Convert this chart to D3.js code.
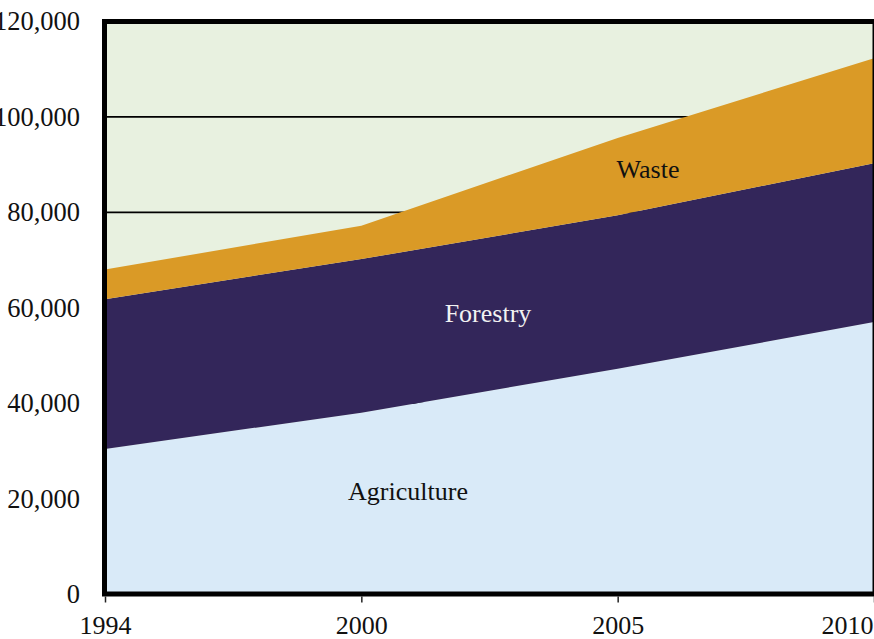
<!DOCTYPE html>
<html>
<head>
<meta charset="utf-8">
<script src="https://cdn.jsdelivr.net/npm/d3@7"></script>
<style>
  html, body { margin: 0; padding: 0; background: #ffffff; overflow: hidden; }
  svg { display: block; }
  text { font-family: "Liberation Serif", "DejaVu Serif", serif; }
</style>
</head>
<body>
<svg id="chart" width="874" height="639"></svg>
<script>
// ---- Data ----
const years = ["1994", "2000", "2005", "2010"];
const agriculture = [30400, 38000, 47200, 57000];
const forestry = [31400, 32200, 32200, 33300];
const waste = [6200, 7000, 16200, 22000];
const seriesNames = ["Agriculture", "Forestry", "Waste"];
const yTicks = [0, 20000, 40000, 60000, 80000, 100000, 120000];
const gridValues = [20000, 40000, 60000, 80000, 100000];

// ---- Layout ----
const svg = d3.select("#chart");
const plotLeft = 105, plotRight = 874, plotTop = 21.5, plotBottom = 594;

const x = d3.scalePoint().domain(years).range([plotLeft, plotRight]);
const y = d3.scaleLinear().domain([0, 120000]).range([plotBottom, plotTop]);

const colors = {
  Agriculture: "#d9eaf8",
  Forestry: "#33265a",
  Waste: "#da9a26"
};

const table = years.map((yr, i) => ({
  year: yr,
  Agriculture: agriculture[i],
  Forestry: forestry[i],
  Waste: waste[i]
}));
const stacked = d3.stack().keys(seriesNames)(table);

// background
svg.append("rect")
  .attr("x", plotLeft).attr("y", plotTop)
  .attr("width", plotRight - plotLeft).attr("height", plotBottom - plotTop)
  .attr("fill", "#e8f1e0");

// gridlines
svg.append("g").selectAll("line")
  .data(gridValues).join("line")
  .attr("x1", plotLeft).attr("x2", plotRight)
  .attr("y1", d => y(d)).attr("y2", d => y(d))
  .attr("stroke", "#000").attr("stroke-width", 1.6);

// areas
const area = d3.area()
  .x(d => x(d.data.year))
  .y0(d => y(d[0]))
  .y1(d => y(d[1]));

svg.append("g").selectAll("path")
  .data(stacked).join("path")
  .attr("d", area)
  .attr("fill", d => colors[d.key]);

// frame
svg.append("rect")
  .attr("x", plotLeft - 0.5).attr("y", plotTop)
  .attr("width", plotRight - plotLeft + 1.5).attr("height", plotBottom - plotTop)
  .attr("fill", "none")
  .attr("stroke", "#000").attr("stroke-width", 5);

// x axis
const xAxis = d3.axisBottom(x).tickSize(6).tickPadding(12);
const gx = svg.append("g")
  .attr("transform", `translate(0,${plotBottom + 2.5})`)
  .call(xAxis);
gx.select(".domain").remove();
gx.selectAll(".tick line").attr("stroke", "#222").attr("stroke-width", 1.5);
gx.selectAll(".tick text")
  .attr("font-size", 26).attr("fill", "#111")
  .attr("font-family", "Liberation Serif, serif")
  .attr("y", 37).attr("dy", "0");
gx.selectAll(".tick text")
  .filter(d => d === years[years.length - 1])
  .attr("text-anchor", "end")
  .attr("x", -1);

// y axis
const yAxis = d3.axisLeft(y).tickValues(yTicks).tickSize(0).tickPadding(25)
  .tickFormat(d3.format(","));
const gy = svg.append("g")
  .attr("transform", `translate(${plotLeft},0)`)
  .call(yAxis);
gy.select(".domain").remove();
gy.selectAll(".tick text")
  .attr("font-size", 26.5).attr("fill", "#111")
  .attr("font-family", "Liberation Serif, serif");

// series labels
const labels = [
  { name: "Agriculture", x: 408, y: 500, fill: "#111" },
  { name: "Forestry", x: 488, y: 322, fill: "#f2f2f2" },
  { name: "Waste", x: 648, y: 178, fill: "#111" }
];
svg.append("g").selectAll("text")
  .data(labels).join("text")
  .attr("x", d => d.x).attr("y", d => d.y)
  .attr("text-anchor", "middle")
  .attr("font-size", 26)
  .attr("fill", d => d.fill)
  .text(d => d.name);
</script>
</body>
</html>
